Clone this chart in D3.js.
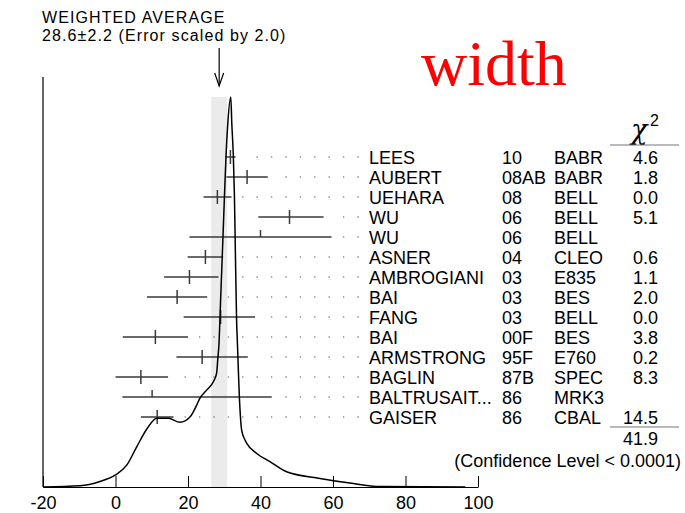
<!DOCTYPE html>
<html>
<head>
<meta charset="utf-8">
<script src="https://cdn.jsdelivr.net/npm/d3@7/dist/d3.min.js"></script>
<style>
  body { margin: 0; background: #fff; }
  svg { display: block; }
  text { font-family: "Liberation Sans", Arial, Helvetica, sans-serif; fill: #000; }
</style>
</head>
<body>
<svg id="chart" width="685" height="513"></svg>
<script>
// Measurements of the eta_c width (MeV)
const authors = ["LEES", "AUBERT", "UEHARA", "WU", "WU", "ASNER", "AMBROGIANI", "BAI", "FANG", "BAI", "ARMSTRONG", "BAGLIN", "BALTRUSAIT...", "GAISER"];
const years = ["10", "08AB", "08", "06", "06", "04", "03", "03", "03", "00F", "95F", "87B", "86", "86"];
const experiments = ["BABR", "BABR", "BELL", "BELL", "BELL", "CLEO", "E835", "BES", "BELL", "BES", "E760", "SPEC", "MRK3", "CBAL"];
const values = [31.7, 36.3, 28.1, 48, 40, 24.8, 20.4, 17.0, 29, 11.0, 23.9, 7.0, 10.1, 11.5];
const errLow = [1.4, 5.7, 3.8, 8.6, 19.6, 4.9, 7.0, 8.3, 10.2, 9.0, 7.1, 7.0, 8.2, 4.5];
const errHigh = [1.4, 5.7, 3.9, 9.4, 19.6, 4.9, 8.0, 8.3, 9.5, 9.0, 12.6, 7.5, 33.0, 4.5];
const usedInFit = [true, true, true, true, false, true, true, true, true, true, true, true, false, true];
const chi2 = ["4.6", "1.8", "0.0", "5.1", "", "0.6", "1.1", "2.0", "0.0", "3.8", "0.2", "8.3", "", "14.5"];
const chi2Total = "41.9";
const confidenceText = "(Confidence Level < 0.0001)";

// Weighted average
const avgValue = 28.6;
const avgError = 2.2;
const titleLines = ["WEIGHTED AVERAGE", "28.6\u00b12.2 (Error scaled by 2.0)"];
const quantityLabel = "width";

// Ideogram (relative density vs width)
const ideogramX = [-20.0, -9.8, -4.3, 0.0, 3.1, 5.85, 8.6, 11.4, 14.6, 17.8, 20.6, 22.4, 23.3, 25.2, 27.0, 27.9, 28.2, 28.6, 28.8, 29.2, 29.65, 30.07, 30.5, 30.95, 31.8, 32.1, 32.5, 32.8, 33.0, 33.4, 33.6, 34.3, 34.8, 35.7, 36.2, 38.95, 42.6, 47.2, 56.4, 64.7, 73.0, 96.5];
const ideogramY = [0.000, 0.003, 0.014, 0.031, 0.056, 0.103, 0.148, 0.176, 0.176, 0.166, 0.180, 0.210, 0.228, 0.249, 0.270, 0.292, 0.326, 0.377, 0.428, 0.531, 0.642, 0.749, 0.851, 0.928, 1.000, 0.928, 0.851, 0.749, 0.642, 0.428, 0.377, 0.206, 0.146, 0.121, 0.112, 0.086, 0.065, 0.039, 0.022, 0.010, 0.001, 0.000];

const xTicks = [-20, 0, 20, 40, 60, 80, 100];

// ---- layout ----
const svg = d3.select("#chart");
const fontSize = 18;
const plotTop = 77, plotBottom = 487;
const x = d3.scaleLinear().domain([-20, 100]).range([43, 478]);
const y = d3.scaleLinear().domain([0, 1]).range([plotBottom, 97]);
const rowY = i => 157 + 20 * i;
const colName = 369, colYear = 502, colExp = 554, colChi = 658;

// error band of the average
svg.append("rect")
  .attr("x", x(avgValue - avgError))
  .attr("width", x(avgValue + avgError) - x(avgValue - avgError))
  .attr("y", y(1))
  .attr("height", plotBottom - y(1))
  .attr("fill", "#ebebeb");

// left frame line
svg.append("line")
  .attr("x1", x(-20)).attr("x2", x(-20))
  .attr("y1", plotTop).attr("y2", plotBottom)
  .attr("stroke", "#000").attr("stroke-width", 1.2);

// bottom axis with upward ticks
const axis = d3.axisBottom(x).tickValues(xTicks).tickSize(-11).tickSizeOuter(0).tickPadding(9)
  .tickFormat(d => String(d));
const gAxis = svg.append("g").attr("transform", `translate(0,${plotBottom})`).call(axis);
gAxis.select(".domain").attr("stroke", "#000").attr("stroke-width", 1.2);
gAxis.selectAll(".tick line").attr("stroke", "#000").attr("stroke-width", 1);
gAxis.selectAll(".tick text")
  .style("font-family", '"Liberation Sans", Arial, sans-serif')
  .style("font-size", fontSize + "px").attr("fill", "#000");

// header
svg.selectAll("text.title").data(titleLines).join("text")
  .attr("class", "title")
  .attr("x", 42).attr("y", (d, i) => 23 + 17.5 * i)
  .style("font-size", "16px")
  .style("letter-spacing", "1.1px")
  .text(d => d);

// arrow pointing at the average
const ax = x(avgValue);
svg.append("line").attr("x1", ax).attr("x2", ax).attr("y1", 48).attr("y2", 86)
  .attr("stroke", "#000").attr("stroke-width", 1.2);
svg.append("path").attr("d", `M${ax - 4.5},73 L${ax},86 L${ax + 4.5},73`)
  .attr("fill", "none").attr("stroke", "#000").attr("stroke-width", 1.2);

// quantity label
svg.append("text").attr("x", 421).attr("y", 85)
  .style("font-family", '"Liberation Serif", "Times New Roman", serif')
  .style("font-size", "64px").style("fill", "#ff0000")
  .text(quantityLabel);

// dotted leaders from each bar to its label
const dotStep = 14.4, dotAnchor = 358;
values.forEach((v, i) => {
  const barEnd = x(v + errHigh[i]);
  const dots = [];
  for (let px = dotAnchor; px >= barEnd + 10; px -= dotStep) dots.push(px);
  svg.append("g").selectAll("circle").data(dots).join("circle")
    .attr("cx", d => d).attr("cy", rowY(i)).attr("r", 0.8).attr("fill", "#777");
});

// error bars
const bars = svg.append("g").attr("stroke", "#3a3a3a").attr("stroke-width", 1.5);
values.forEach((v, i) => {
  const cy = rowY(i);
  bars.append("line").attr("x1", x(v - errLow[i])).attr("x2", x(v + errHigh[i]))
    .attr("y1", cy).attr("y2", cy);
  bars.append("line").attr("x1", x(v)).attr("x2", x(v))
    .attr("y1", cy - 7).attr("y2", usedInFit[i] ? cy + 7 : cy);
});

// ideogram
const pts = ideogramX.map((v, i) => [v, ideogramY[i]]);
svg.append("path").datum(pts)
  .attr("d", d3.line().x(d => x(d[0])).y(d => y(d[1])).curve(d3.curveMonotoneX))
  .attr("fill", "none").attr("stroke", "#000").attr("stroke-width", 1.5);

// table
const table = svg.append("g").style("font-size", fontSize + "px");
authors.forEach((a, i) => {
  const by = rowY(i) + 6.5;
  table.append("text").attr("x", colName).attr("y", by).text(a);
  table.append("text").attr("x", colYear).attr("y", by).text(years[i]);
  table.append("text").attr("x", colExp).attr("y", by).text(experiments[i]);
  if (chi2[i]) table.append("text").attr("x", colChi).attr("y", by).attr("text-anchor", "end").text(chi2[i]);
});

// chi-square header and totals
svg.append("text").attr("x", 631).attr("y", 139)
  .style("font-family", '"DejaVu Serif", serif').style("font-style", "italic")
  .style("font-size", "27px").text("\u03c7");
svg.append("text").attr("x", 650).attr("y", 126).style("font-size", "16px").text("2");
svg.append("line").attr("x1", 610).attr("x2", 679).attr("y1", 145).attr("y2", 145)
  .attr("stroke", "#777").attr("stroke-width", 1.2);
svg.append("line").attr("x1", 610).attr("x2", 679).attr("y1", 427).attr("y2", 427)
  .attr("stroke", "#777").attr("stroke-width", 1.2);
svg.append("text").attr("x", colChi).attr("y", 445).attr("text-anchor", "end")
  .style("font-size", fontSize + "px").text(chi2Total);
svg.append("text").attr("x", 681).attr("y", 467).attr("text-anchor", "end")
  .style("font-size", fontSize + "px").text(confidenceText);
</script>
</body>
</html>
